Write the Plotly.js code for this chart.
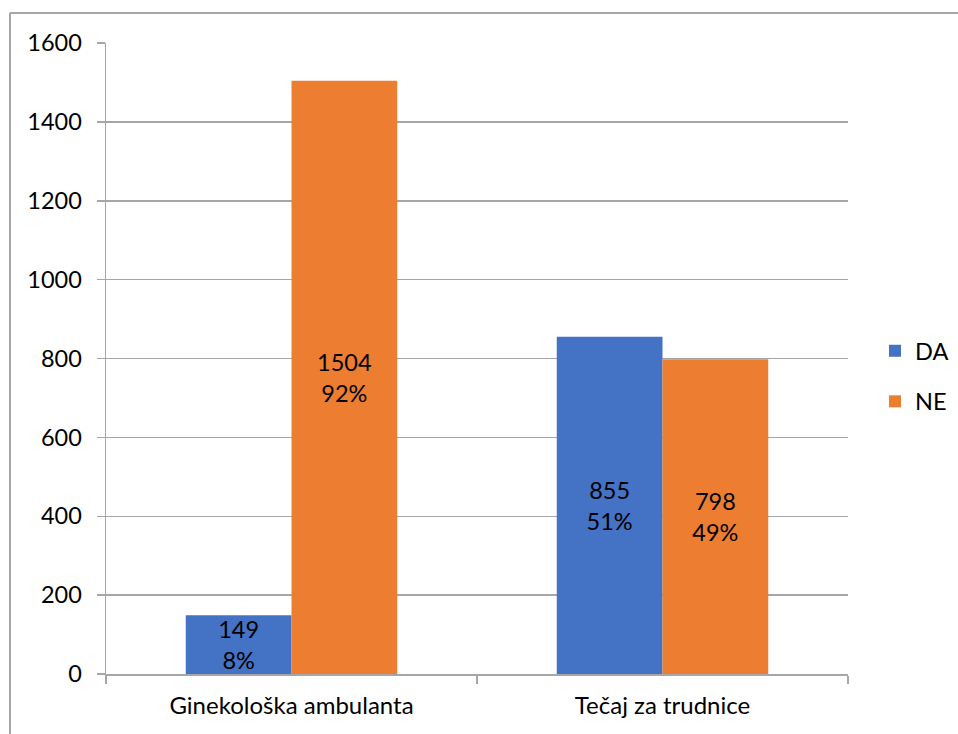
<!DOCTYPE html>
<html><head><meta charset="utf-8">
<script src="https://cdn.plot.ly/plotly-3.0.1.min.js"></script>
<style>html,body{margin:0;padding:0;background:#fff}#c{width:958px;height:734px}</style>
</head><body><div id="c"></div>
<script>
const categories = ["Ginekološka ambulanta", "Tečaj za trudnice"];
const daValues = [149, 855];
const neValues = [1504, 798];
const daPct = ["8%", "51%"];
const nePct = ["92%", "49%"];
const yTicks = [0, 200, 400, 600, 800, 1000, 1200, 1400, 1600];

const W = 958, H = 734, L = 106, R = 110, T = 43, B = 60;
const pw = W - L - R, ph = H - T - B;
const font = "Lato, 'Open Sans', sans-serif";
const FS = 23.5;

function mk(name, vals, pcts, color, group) {
  return {
    type: 'bar', name: name, x: categories, y: vals,
    text: vals.map((v, i) => v + '<br>' + pcts[i]),
    textposition: 'inside', insidetextanchor: 'middle', constraintext: 'none', textangle: 0,
    textfont: {family: font, size: FS, color: '#000'},
    marker: {color: color}, legendgroup: group, hoverinfo: 'skip'
  };
}
const data = [mk('DA', daValues, daPct, '#4472C4', 'a'), mk('NE', neValues, nePct, '#ED7D31', 'b')];

const px = x => (x - L) / pw, py = y => (H - B - y) / ph;
const layout = {
  width: W, height: H, margin: {l: L, r: R, t: T, b: B, autoexpand: false},
  paper_bgcolor: '#fff', plot_bgcolor: '#fff',
  barmode: 'group', bargap: 0.43, bargroupgap: 0,
  font: {family: font, size: FS, color: '#000'},
  xaxis: {showline: true, linecolor: '#A6A6A6', linewidth: 1.5, ticks: 'outside', tickson: 'boundaries',
          ticklen: 8, tickcolor: '#A6A6A6', tickwidth: 1.5, showgrid: false, automargin: false,
          ticklabelstandoff: 10,
          tickfont: {family: font, size: 24, color: '#000'}},
  yaxis: {range: [0, 1600], tickvals: yTicks, showline: true, linecolor: '#A6A6A6', linewidth: 1.5,
          ticks: 'outside', ticklen: 8, tickcolor: '#A6A6A6', tickwidth: 1.5, automargin: false,
          ticklabelstandoff: 10,
          gridcolor: '#A6A6A6', gridwidth: 1.5, zeroline: false,
          tickfont: {family: font, size: FS, color: '#000'}},
  showlegend: true,
  legend: {x: px(875), xanchor: 'left', y: py(376.5), yanchor: 'middle', traceorder: 'grouped', tracegroupgap: 17,
           font: {family: font, size: FS, color: '#000'}, bgcolor: 'rgba(0,0,0,0)'},
  shapes: [
    {type: 'line', xref: 'paper', yref: 'paper', x0: px(10), x1: px(960), y0: py(13), y1: py(13), line: {color: '#A6A6A6', width: 2}},
    {type: 'line', xref: 'paper', yref: 'paper', x0: px(10), x1: px(10), y0: py(13), y1: py(740), line: {color: '#A6A6A6', width: 2}}
  ]
};
Plotly.newPlot('c', data, layout, {staticPlot: true, displayModeBar: false});
</script></body></html>
